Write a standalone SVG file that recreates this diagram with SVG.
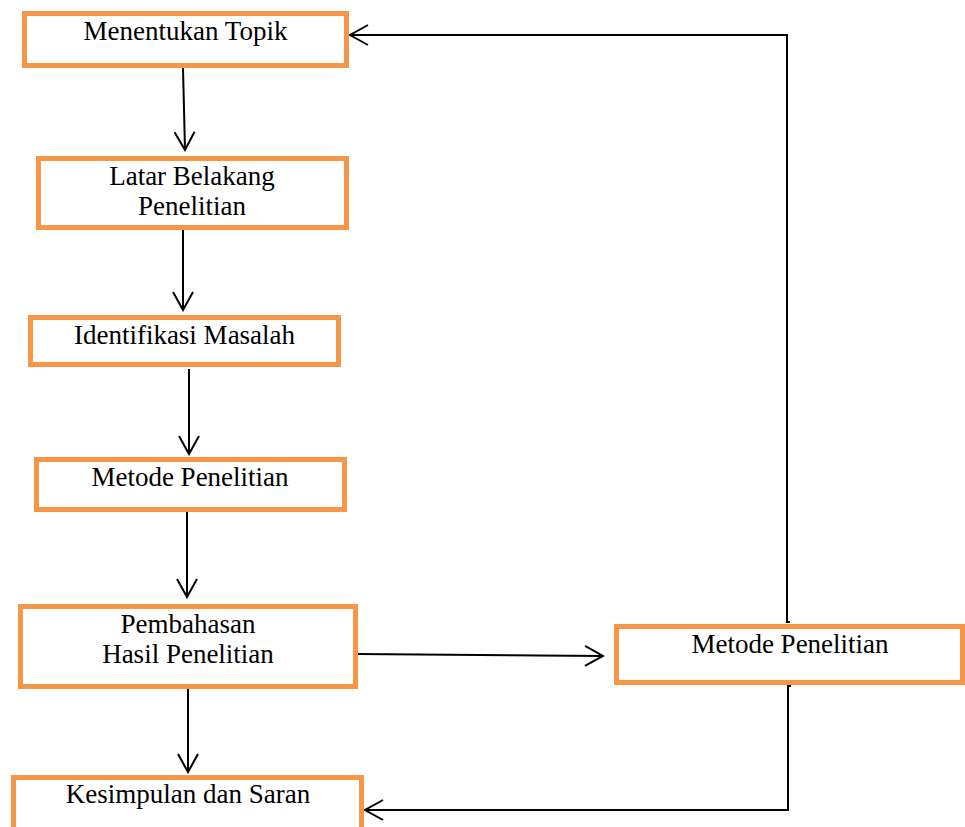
<svg xmlns="http://www.w3.org/2000/svg" width="965" height="827" viewBox="0 0 965 827">
<style>
.box{fill:#fff;stroke:#F79646;stroke-width:5}
.t{font-family:"Liberation Serif","Times New Roman",serif;font-size:27px;fill:#000;text-anchor:middle}
.c{fill:none;stroke:#000;stroke-width:2}
</style>
<defs>
<marker id="ah" viewBox="-21 -12 23 24" markerWidth="23" markerHeight="24" refX="0" refY="0" orient="auto" markerUnits="userSpaceOnUse">
<path d="M-18,-10 L0,0 L-18,10" fill="none" stroke="#000" stroke-width="2"/>
</marker>
</defs>
<rect width="965" height="827" fill="#fff"/>
<g id="connectors">
<line class="c" x1="183" y1="68" x2="185" y2="150" marker-end="url(#ah)"/>
<line class="c" x1="183" y1="230" x2="183" y2="310" marker-end="url(#ah)"/>
<line class="c" x1="189" y1="369" x2="189" y2="454" marker-end="url(#ah)"/>
<line class="c" x1="187" y1="512" x2="187" y2="597" marker-end="url(#ah)"/>
<line class="c" x1="188" y1="689" x2="188" y2="772" marker-end="url(#ah)"/>
<line class="c" x1="358" y1="654" x2="603" y2="656" marker-end="url(#ah)"/>
<polyline class="c" points="790,622 787,622 787,35 350,35" marker-end="url(#ah)"/>
<polyline class="c" points="791,686 788,686 788,810 365,810" marker-end="url(#ah)"/>
</g>
<g id="n1"><rect class="box" x="24.5" y="13.5" width="322" height="52"/><text class="t" x="185.5" y="40">Menentukan Topik</text></g>
<g id="n2"><rect class="box" x="38.5" y="158.5" width="308" height="69"/><text class="t" x="192" y="185">Latar Belakang</text><text class="t" x="192" y="215">Penelitian</text></g>
<g id="n3"><rect class="box" x="30.5" y="317.5" width="308" height="47"/><text class="t" x="184.5" y="344">Identifikasi Masalah</text></g>
<g id="n4"><rect class="box" x="36.5" y="459.5" width="308" height="50"/><text class="t" x="190" y="486">Metode Penelitian</text></g>
<g id="n5"><rect class="box" x="20.5" y="606.5" width="335" height="80"/><text class="t" x="188" y="633">Pembahasan</text><text class="t" x="188" y="663">Hasil Penelitian</text></g>
<g id="n6"><rect class="box" x="13.5" y="777.5" width="348" height="70"/><text class="t" x="188" y="803">Kesimpulan dan Saran</text></g>
<g id="n7"><rect class="box" x="616.5" y="626.5" width="346" height="56"/><text class="t" x="790" y="653">Metode Penelitian</text></g>
</svg>
